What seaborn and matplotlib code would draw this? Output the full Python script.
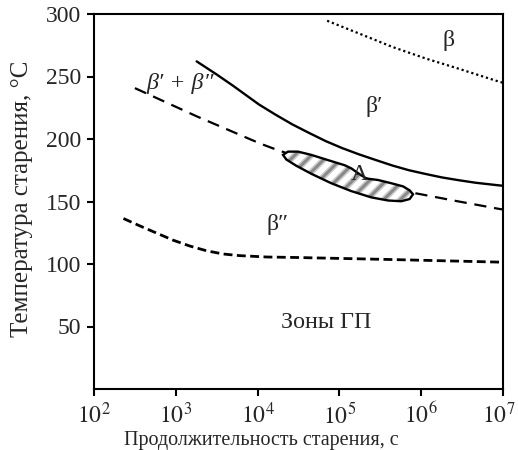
import numpy as np
import pandas as pd
import matplotlib
matplotlib.use("Agg")
import matplotlib.pyplot as plt
import matplotlib.transforms as mtransforms
import seaborn as sns

# ---- data (log10 of time in s, temperature in °C) ----
solid_logt = [3.255, 3.50, 3.70, 4.017, 4.221, 4.424, 4.628, 4.833, 5.035, 5.240,
              5.444, 5.647, 5.851, 6.055, 6.258, 6.462, 6.666, 6.951, 7.0]
solid_T    = [262.1, 251.6, 242.6, 227.6, 219.4, 211.7, 204.9, 198.3, 192.7, 187.7,
              183.2, 178.8, 175.0, 172.0, 169.2, 167.0, 165.0, 162.9, 162.6]

dash_logt = [2.50, 3.26, 4.03, 4.18, 4.6, 5.3, 5.93, 6.46, 6.95, 7.0]
dash_T    = [240.7, 218.0, 196.4, 192.7, 183, 169, 156.6, 150.0, 144.1, 143.6]

dot_logt = [4.85, 5.24, 5.65, 6.06, 6.46, 6.95, 7.0]
dot_T    = [294.6, 284.4, 273.6, 264.3, 256.2, 245.9, 245.0]

low_logt = [2.36, 2.56, 2.77, 2.97, 3.17, 3.38, 3.58, 3.78, 4.11, 4.48, 5.62, 6.96, 7.0]
low_T    = [136.4, 130.5, 124.6, 119.0, 114.4, 110.5, 108.0, 106.7, 105.6, 105.2,
            103.6, 101.5, 101.4]

blob_logt = [4.311, 4.372, 4.494, 4.656, 4.861, 5.065, 5.146, 5.227, 5.329, 5.472,
             5.635, 5.778, 5.859, 5.900, 5.859, 5.757, 5.594, 5.390, 5.146, 4.901,
             4.656, 4.473, 4.351, 4.311]
blob_T    = [187.3, 189.9, 189.9, 187.3, 183.1, 179.0, 176.5, 172.7, 168.4, 167.2,
             164.6, 162.1, 158.9, 155.8, 152.0, 150.2, 150.8, 153.3, 158.3, 164.6,
             172.2, 178.6, 183.6, 187.3]

x_ticks = [2, 3, 4, 5, 6, 7]
x_ticklabels = ["$10^{2}$", "$10^{3}$", "$10^{4}$", "$10^{5}$", "$10^{6}$", "$10^{7}$"]
y_ticks = [50, 100, 150, 200, 250, 300]

labels = [("β", 6.34, 279, "normal"),
          ("β′", 5.42, 226, "normal"),
          ("β′ + β″", 3.05, 244, "italic"),
          ("A", 5.24, 172, "normal"),
          ("β″", 4.25, 131.5, "normal"),
          ("Зоны ГП", 4.84, 53, "normal")]

xlabel = "Продолжительность старения, с"
ylabel = "Температура старения, °С"

# ---- style ----
sns.set_style("ticks")
plt.rcParams["font.family"] = ["Liberation Serif", "DejaVu Serif"]
plt.rcParams["mathtext.fontset"] = "stix"
fs_tick = 17.0
fs_text = 17.3
fs_xlabel = 14.5
fs_ylabel = 18.0

fig = plt.figure(figsize=(5.18, 4.5), dpi=100)
ax = fig.add_axes([94/518, 1-389/450, (503-94)/518, (389-14)/450])

def to_df(lt, T):
    return pd.DataFrame({"t": np.power(10.0, lt), "T": T})

sns.lineplot(data=to_df(solid_logt, solid_T), x="t", y="T", ax=ax, color="black",
             lw=1.7, sort=False, estimator=None)
sns.lineplot(data=to_df(dash_logt, dash_T), x="t", y="T", ax=ax, color="black",
             lw=1.6, sort=False, estimator=None, linestyle=(0, (5.5, 3.5)))
sns.lineplot(data=to_df(dot_logt, dot_T), x="t", y="T", ax=ax, color="black",
             lw=1.6, sort=False, estimator=None, linestyle=(0, (1, 1.3)))
sns.lineplot(data=to_df(low_logt, low_T), x="t", y="T", ax=ax, color="black",
             lw=2.0, sort=False, estimator=None, linestyle=(0, (3.2, 1.6)))

# hatched region A (soft grey stripes)
bx = np.power(10.0, blob_logt)
ax.fill(bx, blob_T, facecolor="white", edgecolor="none", lw=0, zorder=2.9)
p1 = ax.fill(bx, blob_T, facecolor="none", edgecolor="#cdcdcd", hatch="//", lw=0, zorder=3)[0]
p2 = ax.fill(bx, blob_T, facecolor="none", edgecolor="#8a8a8a", hatch="//", lw=0, zorder=3.1)[0]
if hasattr(p1, "set_hatch_linewidth"):
    p1.set_hatch_linewidth(4.5)
    p2.set_hatch_linewidth(2.2)
else:
    plt.rcParams["hatch.linewidth"] = 3.5
ax.fill(bx, blob_T, facecolor="none", edgecolor="black", lw=1.7, zorder=4)

for txt, lx, ly, st in labels:
    ax.text(10**lx, ly, txt, ha="center", va="center", fontsize=fs_text, style=st, zorder=5)

ax.set_xscale("log")
ax.set_xlim(1e2, 1e7)
ax.set_ylim(0, 300)
ax.set_xticks([10.0**v for v in x_ticks])
ax.set_xticklabels(x_ticklabels, fontsize=fs_tick)
ax.xaxis.set_minor_locator(matplotlib.ticker.NullLocator())
ax.set_yticks(y_ticks)
ax.set_yticklabels([str(v) for v in y_ticks], fontsize=fs_tick)
ax.tick_params(direction="out", length=5, width=1.5, color="black", pad=4)
ax.tick_params(axis="x", pad=5)
for s in ax.spines.values():
    s.set_linewidth(1.5)
    s.set_color("black")

# keep the last x tick label inside the figure
last = ax.get_xticklabels()[-1]
last.set_transform(last.get_transform() +
                   mtransforms.ScaledTranslation(-4/100, 0, fig.dpi_scale_trans))

ax.set_xlabel(xlabel, fontsize=fs_xlabel)
ax.xaxis.set_label_coords(0.41, -0.112)
ax.set_ylabel(ylabel, fontsize=fs_ylabel)
ax.yaxis.set_label_coords(-0.15, 0.507)

fig.savefig("out.png", dpi=100)
